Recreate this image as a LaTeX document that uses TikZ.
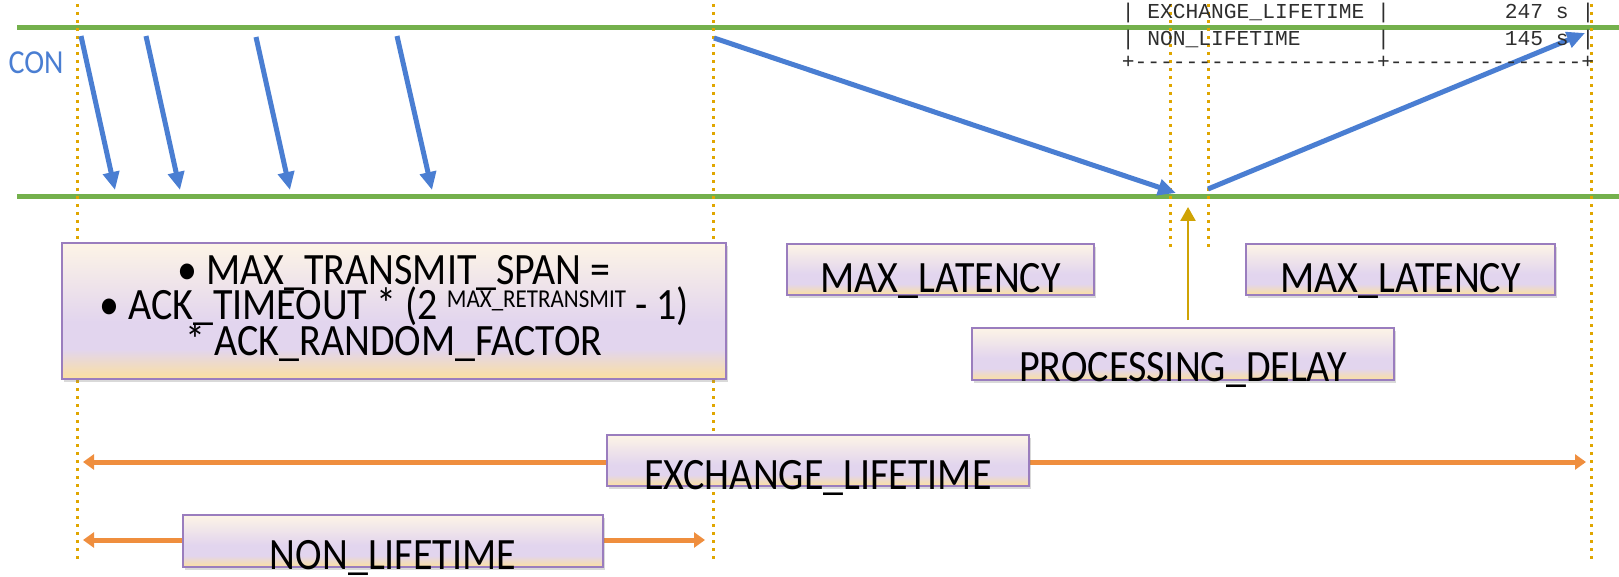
\documentclass[tikz,border=0pt]{standalone}
\usepackage{graphicx}
\usepackage{fontspec}
\setmainfont{Carlito}
\setmonofont{Liberation Mono}
\usetikzlibrary{arrows.meta,shadows}

\definecolor{linegreen}{HTML}{74B04C}
\definecolor{msgblue}{HTML}{4A7ED2}
\definecolor{spanorange}{HTML}{EF8E3E}
\definecolor{markgold}{HTML}{E0A600}
\definecolor{delaygold}{HTML}{CFA304}
\definecolor{boxedge}{HTML}{9A7DBE}
\definecolor{bftop}{HTML}{FDF4E6}
\definecolor{bflav}{HTML}{E2D5EE}
\definecolor{bfbot}{HTML}{F9DFA6}
\definecolor{tabtext}{HTML}{2E2E2E}

% cream top, lavender band, pale gold bottom
\pgfdeclareverticalshading{boxfill}{100bp}{color(0bp)=(bfbot); color(26bp)=(bfbot); color(36bp)=(bflav); color(46bp)=(bflav); color(75bp)=(bftop); color(100bp)=(bftop)}

% labels are set slightly taller than the font's natural shape
\newcommand\tallbox[1]{\scalebox{1}[1.12]{#1}}

\begin{document}
\begin{tikzpicture}[x=1pt,y=-1pt,
  timeline/.style={linegreen, line width=5pt},
  marker/.style={markgold, line width=3pt, dash pattern=on 3pt off 5pt},
  msg/.style={msgblue, line width=5pt, -{Triangle[length=18pt,width=16pt]}},
  spanarrow/.style={spanorange, line width=5pt, {Triangle[length=11pt,width=15pt]}-{Triangle[length=11pt,width=15pt]}},
  delay/.style={delaygold, line width=2.6pt, -{Triangle[length=14pt,width=15pt]}},
  databox/.style={draw=boxedge, line width=1.6pt, shade, shading=boxfill,
    drop shadow={shadow xshift=2pt, shadow yshift=-3pt, opacity=0.3},
    inner sep=0pt, text height=0pt, text depth=0pt, font=\fontsize{40}{40}\selectfont},
  tabrow/.style={anchor=base west, inner sep=0pt, text=tabtext, font=\ttfamily\fontsize{21.28}{21.28}\selectfont}
]
\useasboundingbox (0,0) rectangle (1619,577);

% end points
\coordinate (sndL) at (17,28);   \coordinate (sndR) at (1619,28);
\coordinate (rcvL) at (17,197);  \coordinate (rcvR) at (1619,197);
\coordinate (k1t) at (77,4);     \coordinate (k1b) at (77,560);
\coordinate (k2t) at (713,4);    \coordinate (k2b) at (713,560);
\coordinate (k3t) at (1170,4);   \coordinate (k3b) at (1170,247);
\coordinate (k4t) at (1208,4);   \coordinate (k4b) at (1208,247);
\coordinate (k5t) at (1591,4);   \coordinate (k5b) at (1591,560);
\coordinate (m1a) at (81,36);    \coordinate (m1b) at (115,190);
\coordinate (m2a) at (146,36);   \coordinate (m2b) at (180,190);
\coordinate (m3a) at (256,37);   \coordinate (m3b) at (290,190);
\coordinate (m4a) at (397,36);   \coordinate (m4b) at (432,190);
\coordinate (m5a) at (714,38);   \coordinate (m5b) at (1176,193);
\coordinate (m6a) at (1208,189); \coordinate (m6b) at (1585,33);
\coordinate (pdA) at (1188,320); \coordinate (pdB) at (1188,207);
\coordinate (exL) at (83,462);   \coordinate (exR) at (1586,462);
\coordinate (nlL) at (83,540);   \coordinate (nlR) at (705,540);

% sender and receiver timelines
\draw[timeline] (sndL) -- (sndR);
\draw[timeline] (rcvL) -- (rcvR);

% time markers
\foreach \k in {1,...,5} \draw[marker] (k\k t) -- (k\k b);

% retransmissions and exchange
\foreach \m in {1,...,6} \draw[msg] (m\m a) -- (m\m b);
\draw[delay] (pdA) -- (pdB);

% lifetimes
\draw[spanarrow] (exL) -- (exR);
\draw[spanarrow] (nlL) -- (nlR);

% labels
\node[text=msgblue, font=\fontsize{30}{30}\selectfont, inner sep=0pt] (con) at (36,63) {\tallbox{CON}};

\node[databox, minimum width=664pt, minimum height=136pt] (span) at (394,311)
  {\raisebox{27pt}[0pt][0pt]{\tallbox{\parbox[t]{650pt}{\centering\fontsize{40}{31.7}\selectfont\lineskiplimit=-50pt
   \textbullet\ MAX\_TRANSMIT\_SPAN =\\
   \textbullet\ ACK\_TIMEOUT * (2 \raisebox{11pt}{\fontsize{23}{23}\selectfont MAX\_RETRANSMIT} - 1)\\
   {*} ACK\_RANDOM\_FACTOR}}}};

\node[databox, minimum width=307pt, minimum height=51pt] (lat1) at (940.5,269.5)
  {\raisebox{-22.5pt}[0pt][0pt]{\tallbox{MAX\_LATENCY}}};
\node[databox, minimum width=309pt, minimum height=51pt] (lat2) at (1400.5,269.5)
  {\raisebox{-22.5pt}[0pt][0pt]{\tallbox{MAX\_LATENCY}}};
\node[databox, minimum width=422pt, minimum height=52pt] (proc) at (1183,354)
  {\raisebox{-27pt}[0pt][0pt]{\tallbox{PROCESSING\_DELAY}}};
\node[databox, minimum width=422pt, minimum height=51pt] (exch) at (818,460.5)
  {\raisebox{-28.5pt}[0pt][0pt]{\tallbox{EXCHANGE\_LIFETIME}}};
\node[databox, minimum width=420pt, minimum height=52pt] (non) at (393,541)
  {\raisebox{-28pt}[0pt][0pt]{\tallbox{NON\_LIFETIME}}};

% parameter table
\node[tabrow] (row1) at (1121.6,18.5) {|\ EXCHANGE\_LIFETIME\ |\ \ \ \ \ \ \ \ \ 247\ s\ |};
\node[tabrow] (row2) at (1121.6,45.5) {|\ NON\_LIFETIME\ \ \ \ \ \ |\ \ \ \ \ \ \ \ \ 145\ s\ |};
\node[tabrow] (row3) at (1121.6,69) {+-------------------+---------------+};
\end{tikzpicture}
\end{document}
